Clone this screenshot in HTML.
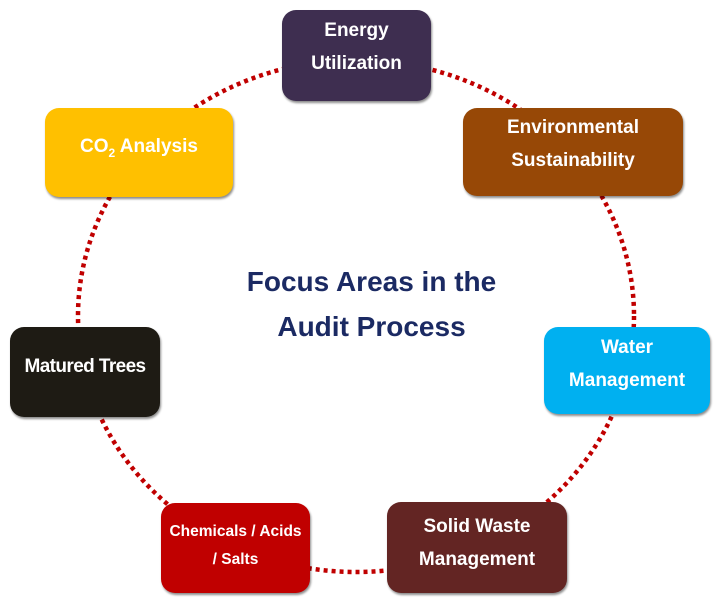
<!DOCTYPE html>
<html><head><style>
body{margin:0;width:721px;height:605px;background:#fff;position:relative;overflow:hidden;font-family:"Liberation Sans",Arial,sans-serif;}
.b{position:absolute;border-radius:14px;color:#fff;font-weight:bold;font-size:19px;text-align:center;box-shadow:1px 2px 2px rgba(0,0,0,.45);line-height:33px;box-sizing:border-box}
.t{position:absolute;left:0;width:721px;text-align:center;color:#1b2a63;font-weight:bold;font-size:28px;}
</style></head><body>
<svg width="721" height="605" style="position:absolute;left:0;top:0">
<ellipse cx="356" cy="316" rx="278" ry="256" fill="none" stroke="#c00000" stroke-width="4.5" stroke-dasharray="4 4"/>
</svg>
<div class="b" style="left:282px;top:10px;width:149px;height:91px;background:#3e2e50;padding-top:4px">Energy<br>Utilization</div>
<div class="b" style="left:463px;top:108px;width:220px;height:88px;background:#974806;padding-top:3px">Environmental<br>Sustainability</div>
<div class="b" style="left:45px;top:108px;width:188px;height:89px;background:#ffc000;padding-top:22px">CO<sub style="font-size:12px;line-height:0">2</sub> Analysis</div>
<div class="b" style="left:10px;top:327px;width:150px;height:90px;background:#1e1b14;padding-top:23px;letter-spacing:-0.6px">Matured Trees</div>
<div class="b" style="left:544px;top:327px;width:166px;height:87px;background:#00b0f0;padding-top:4px">Water<br>Management</div>
<div class="b" style="left:161px;top:503px;width:149px;height:90px;background:#c00000;padding-top:15px;font-size:15.5px;line-height:28px">Chemicals / Acids<br>/ Salts</div>
<div class="b" style="left:387px;top:502px;width:180px;height:91px;background:#632523;padding-top:8px">Solid Waste<br>Management</div>
<div class="t" style="top:266px;left:11px">Focus Areas in the</div>
<div class="t" style="top:311px;left:11px">Audit Process</div>
</body></html>
